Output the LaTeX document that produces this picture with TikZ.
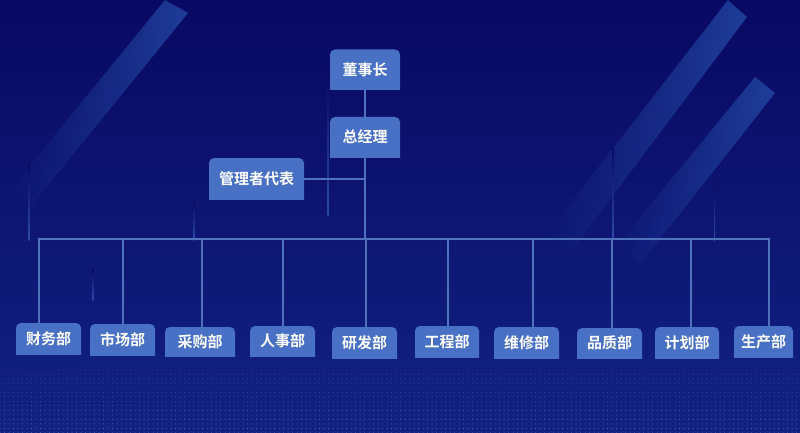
\documentclass[tikz,border=0pt]{standalone}
\usepackage{fontspec}
\newfontfamily\cjk{Noto Sans CJK SC}[BoldFont={Noto Sans CJK SC Bold}]
\usepackage{xcolor}
\usetikzlibrary{patterns.meta,fadings}
\definecolor{bgtop}{RGB}{8,9,98}
\definecolor{bgmid}{RGB}{10,14,108}
\definecolor{bgbot}{RGB}{18,34,130}
\definecolor{boxblue}{RGB}{72,112,196}
\definecolor{linkblue}{RGB}{80,114,186}
\definecolor{stripeblue}{RGB}{38,78,170}
\definecolor{streak}{RGB}{44,74,168}
\definecolor{dotblue}{RGB}{90,128,210}

\begin{document}
\begin{tikzpicture}[x=1pt,y=-1pt,
    box/.style={inner sep=0pt, text=white, font=\cjk\bfseries\fontsize{15}{15}\selectfont,
      path picture={\fill[boxblue,rounded corners=5pt]
        ([yshift=-8pt]path picture bounding box.south west) rectangle (path picture bounding box.north east);}},
    topbox/.style={box, minimum width=70pt, minimum height=40pt},
    subbox/.style={box, minimum width=65pt, minimum height=31pt},
    stripe/.style={fill=stripeblue, fill opacity=0.75, path fading=west},
    glow/.style={top color=bgtop, bottom color=streak},
    link/.style={draw=linkblue, line width=2pt}]
  \useasboundingbox (0,0) rectangle (800,433);
    % background
  \shade[top color=bgtop, middle color=bgmid, bottom color=bgbot] (0,0) rectangle (800,433);
  \fill[stripe] (165,0) -- (188,13) -- (32,205) -- (10,190) -- cycle;
  \fill[stripe] (728,0) -- (747,17) -- (572,250) -- (545,236) -- cycle;
  \fill[stripe] (755,77) -- (775,93) -- (642,262) -- (615,248) -- cycle;
  \shade[glow] (28.6,163) rectangle (29.6,240);
  \shade[glow] (193.6,200) rectangle (194.6,240);
  \shade[glow] (327.6,70) rectangle (328.6,215);
  \shade[glow] (612.6,147) rectangle (613.6,240);
  \shade[glow] (714.1,180) rectangle (715.1,240);
  \shade[glow] (92.6,268) rectangle (93.6,300);
  \fill[pattern={Dots[distance=4.5pt,radius=0.5pt]}, pattern color=dotblue, path fading=north]
    (0,433) -- (0,380) .. controls (150,350) and (300,345) .. (420,358)
    .. controls (550,372) and (650,345) .. (800,352) -- (800,433) -- cycle;

  \node[topbox] (dsz) at (365,69.5) {董事长};
  \node[topbox] (zjl) at (365,137) {总经理};
  \node[box, minimum width=95pt, minimum height=41pt] (glz) at (256.5,178.5) {管理者代表};

  \node[subbox] (cwb) at (48.5,338.5) {财务部};
  \node[subbox] (scb) at (122.5,339.5) {市场部};
  \node[subbox, minimum width=70pt, minimum height=29pt] (cgb) at (200,341.5) {采购部};
  \node[subbox, minimum height=30pt] (rsb) at (282.5,341) {人事部};
  \node[subbox] (yfb) at (364.5,342.5) {研发部};
  \node[subbox, minimum width=64pt] (gcb) at (447,341.5) {工程部};
  \node[subbox] (wxb) at (526.5,342.5) {维修部};
  \node[subbox, minimum height=30pt] (pzb) at (609.5,343) {品质部};
  \node[subbox, minimum width=64pt] (jhb) at (687,342.5) {计划部};
  \node[subbox, minimum width=59pt] (scbu) at (763.5,341.5) {生产部};

  \coordinate (busL) at (39,239);
  \coordinate (busR) at (769,239);
  \draw[link] (dsz) -- (zjl);
  \draw[link] (zjl) -- (zjl |- busL);
  \draw[link] (glz) -- (glz -| zjl);
  \draw[link] (busL |- cwb.north) -- (busL) -- (busR) -- (busR |- scbu.north);
  \draw[link] (scb.north) -- (scb.north |- busL);
  \draw[link] ([xshift=2pt]cgb.north) -- ([xshift=2pt]cgb.north |- busL);
  \draw[link] (rsb.north) -- (rsb.north |- busL);
  \draw[link] ([xshift=1pt]yfb.north) -- ([xshift=1pt]yfb.north |- busL);
  \draw[link] ([xshift=1pt]gcb.north) -- ([xshift=1pt]gcb.north |- busL);
  \draw[link] ([xshift=6.5pt]wxb.north) -- ([xshift=6.5pt]wxb.north |- busL);
  \draw[link] ([xshift=2.5pt]pzb.north) -- ([xshift=2.5pt]pzb.north |- busL);
  \draw[link] ([xshift=4pt]jhb.north) -- ([xshift=4pt]jhb.north |- busL);
\end{tikzpicture}
\end{document}
